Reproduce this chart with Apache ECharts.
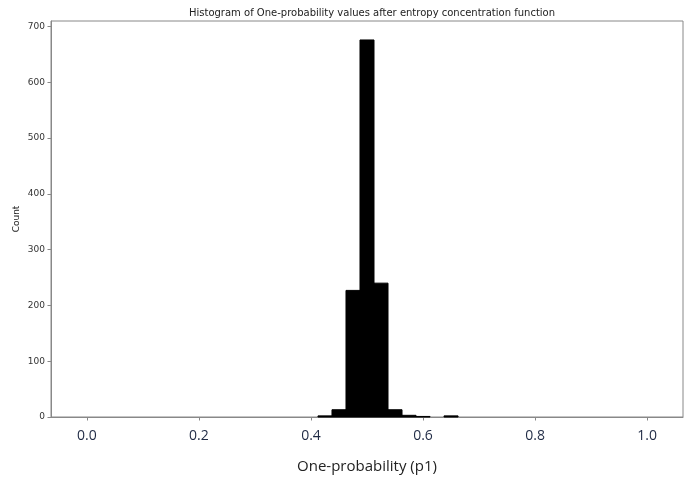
<!DOCTYPE html>
<html>
<head>
<meta charset="utf-8">
<script src="https://cdn.jsdelivr.net/npm/echarts@6/dist/echarts.min.js"></script>
<style>
  html, body { margin: 0; padding: 0; background: #fff; }
  #chart { width: 688px; height: 479px; }
</style>
</head>
<body>
<div id="chart"></div>
<script>
// histogram bins (centre of each bin) and counts
const binWidth = 0.025;
const binCenters = [0.425, 0.45, 0.475, 0.5, 0.525, 0.55, 0.575, 0.6, 0.625, 0.65];
const binCounts = [2, 13, 227, 676, 240, 13, 3, 1, 0, 2];

const xTicks = [0, 0.2, 0.4, 0.6, 0.8, 1.0];
const yTicks = [0, 100, 200, 300, 400, 500, 600, 700];

const chart = echarts.init(document.getElementById('chart'), null, { renderer: 'canvas' });

const axisGray = '#888888';

const option = {
    animation: false,
    backgroundColor: '#ffffff',
    title: {
        text: 'Histogram of One-probability values after entropy concentration function',
        left: 367,
        textAlign: 'center',
        top: 3,
        textStyle: {
            fontFamily: 'DejaVu Sans',
            fontSize: 10,
            fontWeight: 'normal',
            color: '#222'
        }
    },
    grid: {
        left: 51,
        right: 5,
        top: 21,
        bottom: 61,
        show: true,
        borderColor: axisGray,
        borderWidth: 1
    },
    xAxis: {
        type: 'value',
        min: -0.064,
        max: 1.064,
        name: 'One-probability (p1)',
        nameLocation: 'middle',
        nameGap: 42,
        nameTextStyle: {
            fontFamily: 'Open Sans',
            fontSize: 15,
            color: '#222'
        },
        splitLine: { show: false },
        axisLine: { onZero: false, lineStyle: { color: axisGray } },
        axisTick: {
            customValues: xTicks,
            length: 3.5,
            lineStyle: { color: axisGray }
        },
        axisLabel: {
            customValues: xTicks,
            margin: 12,
            fontFamily: 'Open Sans',
            fontSize: 14,
            color: '#1f2a44',
            formatter: function (v) { return v.toFixed(1); }
        }
    },
    yAxis: {
        type: 'value',
        min: 0,
        max: 710,
        name: 'Count',
        nameLocation: 'middle',
        nameGap: 30,
        nameMoveOverlap: false,
        nameTextStyle: {
            fontFamily: 'DejaVu Sans',
            fontSize: 9,
            color: '#222'
        },
        splitLine: { show: false },
        axisLine: { show: true, onZero: false, lineStyle: { color: axisGray } },
        axisTick: {
            show: true,
            customValues: yTicks,
            length: 3.5,
            lineStyle: { color: axisGray }
        },
        axisLabel: {
            customValues: yTicks,
            margin: 6,
            fontFamily: 'DejaVu Sans',
            fontSize: 9,
            color: '#333'
        }
    },
    series: [{
        type: 'custom',
        data: binCenters.map((c, i) => [c, binCounts[i]]),
        renderItem: function (params, api) {
            const c = api.value(0);
            const v = api.value(1);
            if (!v) return;
            const p0 = api.coord([c - binWidth / 2, v]);
            const p1 = api.coord([c + binWidth / 2, 0]);
            return {
                type: 'rect',
                shape: { x: p0[0], y: p0[1], width: p1[0] - p0[0], height: p1[1] - p0[1] },
                style: { fill: '#000000', stroke: '#000000', lineWidth: 1 }
            };
        }
    }]
};

chart.setOption(option);
</script>
</body>
</html>
